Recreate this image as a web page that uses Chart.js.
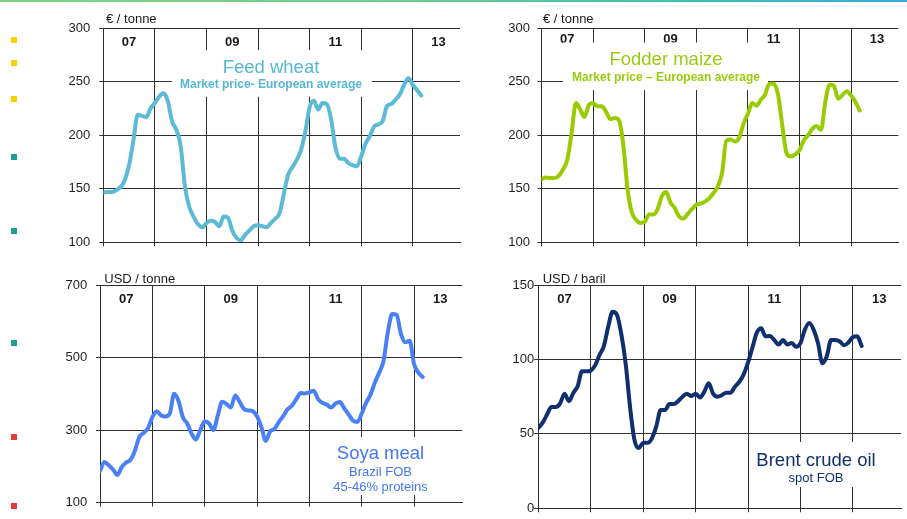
<!DOCTYPE html>
<html>
<head>
<meta charset="utf-8">
<title>Feed and energy prices 2007-2013</title>
<script src="https://cdn.jsdelivr.net/npm/chart.js@4.4.1/dist/chart.umd.min.js"></script>
<style>
  html, body { margin: 0; padding: 0; background: #ffffff; }
  #page { position: relative; width: 907px; height: 519px; overflow: hidden; background: #ffffff; }
  #page canvas { position: absolute; left: 0; top: 0; }
  .rule { position: absolute; left: 0; top: 0; width: 907px; height: 2px;
          background: linear-gradient(to right, #86d283 0%, #6ccb92 45%, #3fbfb2 75%, #3aa9dd 100%); }
  .bullet { position: absolute; left: 11px; width: 6px; height: 6px; }
  .yellow { background: #f6d000; }
  .teal { background: #1a9e96; }
  .red { background: #e53a35; }
</style>
</head>
<body>
<div id="page">
  <div class="rule"></div>
  <div class="bullet yellow" style="top:37px"></div>
  <div class="bullet yellow" style="top:60px"></div>
  <div class="bullet yellow" style="top:96px"></div>
  <div class="bullet teal" style="top:154px"></div>
  <div class="bullet teal" style="top:228px"></div>
  <div class="bullet teal" style="top:340px"></div>
  <div class="bullet red" style="top:434px"></div>
  <div class="bullet red" style="top:503px"></div>
  <canvas id="wheat" width="907" height="519"></canvas>
  <canvas id="maize" width="907" height="519"></canvas>
  <canvas id="soya" width="907" height="519"></canvas>
  <canvas id="brent" width="907" height="519"></canvas>
</div>
<script>
// Monthly series, first value = January 2007
const START_YEAR = 2007;
const MONTHS_SHOWN = 83;                       // axis runs to end of 2013 minus one month
const YEAR_GRID = [2007, 2008, 2009, 2010, 2011, 2012, 2013];
const YEAR_LABELS = ['07', '09', '11', '13'];
const YEAR_LABEL_YEARS = [2007, 2009, 2011, 2013];

// Feed wheat, market price, European average (€/t)
const feedWheat = [
  146.5, 147, 147, 148.5, 151.5, 158, 172, 195, 219, 218,
  217, 225, 230, 236, 239, 232, 213, 205, 190, 152,
  133, 124, 117, 114, 118, 120, 119, 115, 124, 123,
  111, 104, 102, 107, 111, 115, 116, 115, 114, 118,
  122, 127, 145, 163, 170, 177, 186, 203, 226, 232,
  224, 230, 229, 215, 189, 178, 178, 174, 172, 171,
  180, 192, 199, 208, 210, 213, 227, 229, 233, 238,
  247, 253, 247, 242, 237
];

// Fodder maize, market price, European average (€/t)
const fodderMaize = [
  159, 160.5, 160, 160, 162, 168, 177, 202, 230, 224,
  217, 228, 230, 227, 227, 222, 215, 216, 214, 192,
  150, 128, 121, 118, 119, 126, 126, 131, 143, 147,
  137, 132, 124, 122, 126.5, 131, 135, 136, 138, 141,
  146, 152, 165, 195, 196, 194, 198, 211, 220, 230,
  227.5, 233, 238, 248, 248, 238, 209, 183, 180, 182,
  186, 195, 200, 206, 208.5, 205, 231, 247, 246, 234,
  237.5, 241, 237, 231, 223
];

// Soya meal, Brazil FOB, 45-46% proteins (USD/t)
const soyaMeal = [
  187, 212, 203, 191, 176, 198, 210, 218, 243, 280,
  292, 305, 335, 352, 340, 337, 345, 400, 380, 335,
  318, 290, 274, 300, 324, 318, 300, 340, 378, 372,
  362, 395, 378, 358, 354, 352, 338, 308, 270, 296,
  303, 322, 338, 357, 367, 385, 402, 401, 404, 408,
  385, 375, 370, 362, 373, 377, 360, 343, 326, 322,
  345, 375, 397, 430, 458, 490, 570, 620, 618, 565,
  542, 546, 482, 458, 446
];

// Brent crude oil, spot FOB (USD/barrel)
const brentCrude = [
  54, 57.5, 63, 68, 68, 70.5, 77, 72, 77.5, 82,
  92, 92, 92.5, 96, 103, 109, 122, 132, 130, 117,
  97, 68, 46, 40.5, 44, 44, 47, 55, 66, 66,
  70, 70, 72, 75, 77, 75.5, 77, 74.5, 78.4, 84,
  77, 75, 76, 77.7, 77.7, 81.7, 85, 90, 98, 108,
  118, 121, 115.5, 115.7, 113, 110, 113, 110, 111, 108.5,
  111, 120, 124.5, 120, 111, 97.5, 102, 113, 113, 112,
  109.5, 111.5, 115, 115.5, 109
];

const WHEAT_TICKS = [100, 150, 200, 250, 300];
const MAIZE_TICKS = [100, 150, 200, 250, 300];
const SOYA_TICKS = [100, 300, 500, 700];
const BRENT_TICKS = [0, 50, 100, 150];

const FONT = '"Liberation Sans", Arial, Helvetica, sans-serif';
const GRID = '#303030';
Chart.defaults.font.family = FONT;

// Unit caption, year markers, white caption box and series name
const panelText = {
  id: 'panelText',
  beforeDatasetsDraw(chart, args, o) {
    const ctx = chart.ctx;
    const area = chart.chartArea;
    const xs = chart.scales.x;
    ctx.save();
    ctx.fillStyle = '#1a1a1a';
    ctx.font = '13px ' + FONT;
    ctx.textAlign = 'left';
    ctx.textBaseline = 'alphabetic';
    ctx.fillText(o.unit, area.left + o.unitDx, area.top - o.unitDy);

    ctx.font = 'bold 13px ' + FONT;
    ctx.textAlign = 'center';
    ctx.textBaseline = 'middle';
    YEAR_LABEL_YEARS.forEach((yr, i) => {
      ctx.fillText(YEAR_LABELS[i], xs.getPixelForValue(yr + 0.5), area.top + o.yearDy);
    });

    ctx.fillStyle = '#ffffff';
    ctx.fillRect(o.box[0], o.box[1], o.box[2], o.box[3]);

    ctx.fillStyle = o.color;
    ctx.textBaseline = 'alphabetic';
    o.lines.forEach(l => {
      ctx.font = l.font + ' ' + FONT;
      ctx.fillText(l.text, o.cx, l.y);
    });
    ctx.restore();
  }
};

function makePanel(p) {
  const W = 907, H = 519, YW = 60, XH = 6;
  const points = p.values.map((v, i) => ({ x: START_YEAR + i / 12, y: v }));
  return new Chart(document.getElementById(p.id), {
    type: 'line',
    data: {
      datasets: [{
        data: points,
        borderColor: p.color,
        borderWidth: 4,
        pointRadius: 0,
        fill: false,
        cubicInterpolationMode: 'monotone',
        borderCapStyle: 'round',
        borderJoinStyle: 'round'
      }]
    },
    options: {
      responsive: false,
      animation: false,
      devicePixelRatio: 1,
      events: [],
      layout: {
        padding: {
          left: p.area.left - YW,
          top: p.area.top,
          right: W - p.area.right,
          bottom: H - p.area.bottom - XH
        }
      },
      plugins: {
        legend: { display: false },
        tooltip: { enabled: false },
        panelText: p.text
      },
      scales: {
        x: {
          type: 'linear',
          min: START_YEAR,
          max: START_YEAR + MONTHS_SHOWN / 12,
          afterBuildTicks: s => { s.ticks = YEAR_GRID.map(v => ({ value: v })); },
          afterFit: s => { s.height = XH; },
          ticks: { display: false },
          grid: { color: GRID, lineWidth: 1, drawTicks: true, tickLength: 4, tickColor: GRID },
          border: { display: true, color: GRID, width: 1 }
        },
        y: {
          type: 'linear',
          min: p.ticks[0],
          max: p.ticks[p.ticks.length - 1],
          afterBuildTicks: s => { s.ticks = p.ticks.map(v => ({ value: v })); },
          afterFit: s => { s.width = YW; },
          ticks: { font: { size: 13, family: FONT }, color: '#1f1f1f', padding: p.labelPad },
          grid: { color: GRID, lineWidth: 1, drawTicks: true, tickLength: 4, tickColor: GRID },
          border: { display: true, color: GRID, width: 1 }
        }
      }
    },
    plugins: [panelText]
  });
}

makePanel({
  id: 'wheat', values: feedWheat, ticks: WHEAT_TICKS, color: '#5bbad5', labelPad: 9,
  area: { left: 103.3, top: 28, right: 460, bottom: 242.3 },
  text: {
    unit: '€ / tonne', unitDx: 2.7, unitDy: 5.3, yearDy: 14.5, color: '#56b7d3',
    box: [171.7, 50, 200, 46.7], cx: 271,
    lines: [
      { text: 'Feed wheat', font: '18.5px', y: 73.3 },
      { text: 'Market price- European average', font: 'bold 12px', y: 88.3 }
    ]
  }
});

makePanel({
  id: 'maize', values: fodderMaize, ticks: MAIZE_TICKS, color: '#99cc00', labelPad: 7.5,
  area: { left: 541.5, top: 28, right: 898.4, bottom: 242.3 },
  text: {
    unit: '€ / tonne', unitDx: 1.5, unitDy: 5.3, yearDy: 11.5, color: '#99cc11',
    box: [563, 42.5, 205, 47.5], cx: 666,
    lines: [
      { text: 'Fodder maize', font: '18.5px', y: 65 },
      { text: 'Market price – European average', font: 'bold 12px', y: 80.7 }
    ]
  }
});

makePanel({
  id: 'soya', values: soyaMeal, ticks: SOYA_TICKS, color: '#4a80f5', labelPad: 8.7,
  area: { left: 100, top: 285, right: 462, bottom: 508.3 },
  text: {
    unit: 'USD / tonne', unitDx: 4.3, unitDy: 2.3, yearDy: 14.5, color: '#4477ee',
    box: [330, 437, 102, 58], cx: 380.5,
    lines: [
      { text: 'Soya meal', font: '18.5px', y: 459.3 },
      { text: 'Brazil FOB', font: '13px', y: 476 },
      { text: '45-46% proteins', font: '13px', y: 491 }
    ]
  }
});

makePanel({
  id: 'brent', values: brentCrude, ticks: BRENT_TICKS, color: '#0f2f6e', labelPad: 0,
  area: { left: 538.3, top: 285, right: 901, bottom: 508.3 },
  text: {
    unit: 'USD / baril', unitDx: 4.4, unitDy: 2.3, yearDy: 14.5, color: '#12306e',
    box: [750, 442, 132, 45], cx: 816,
    lines: [
      { text: 'Brent crude oil', font: '18.5px', y: 466 },
      { text: 'spot FOB', font: '13px', y: 482.3 }
    ]
  }
});
</script>
</body>
</html>
